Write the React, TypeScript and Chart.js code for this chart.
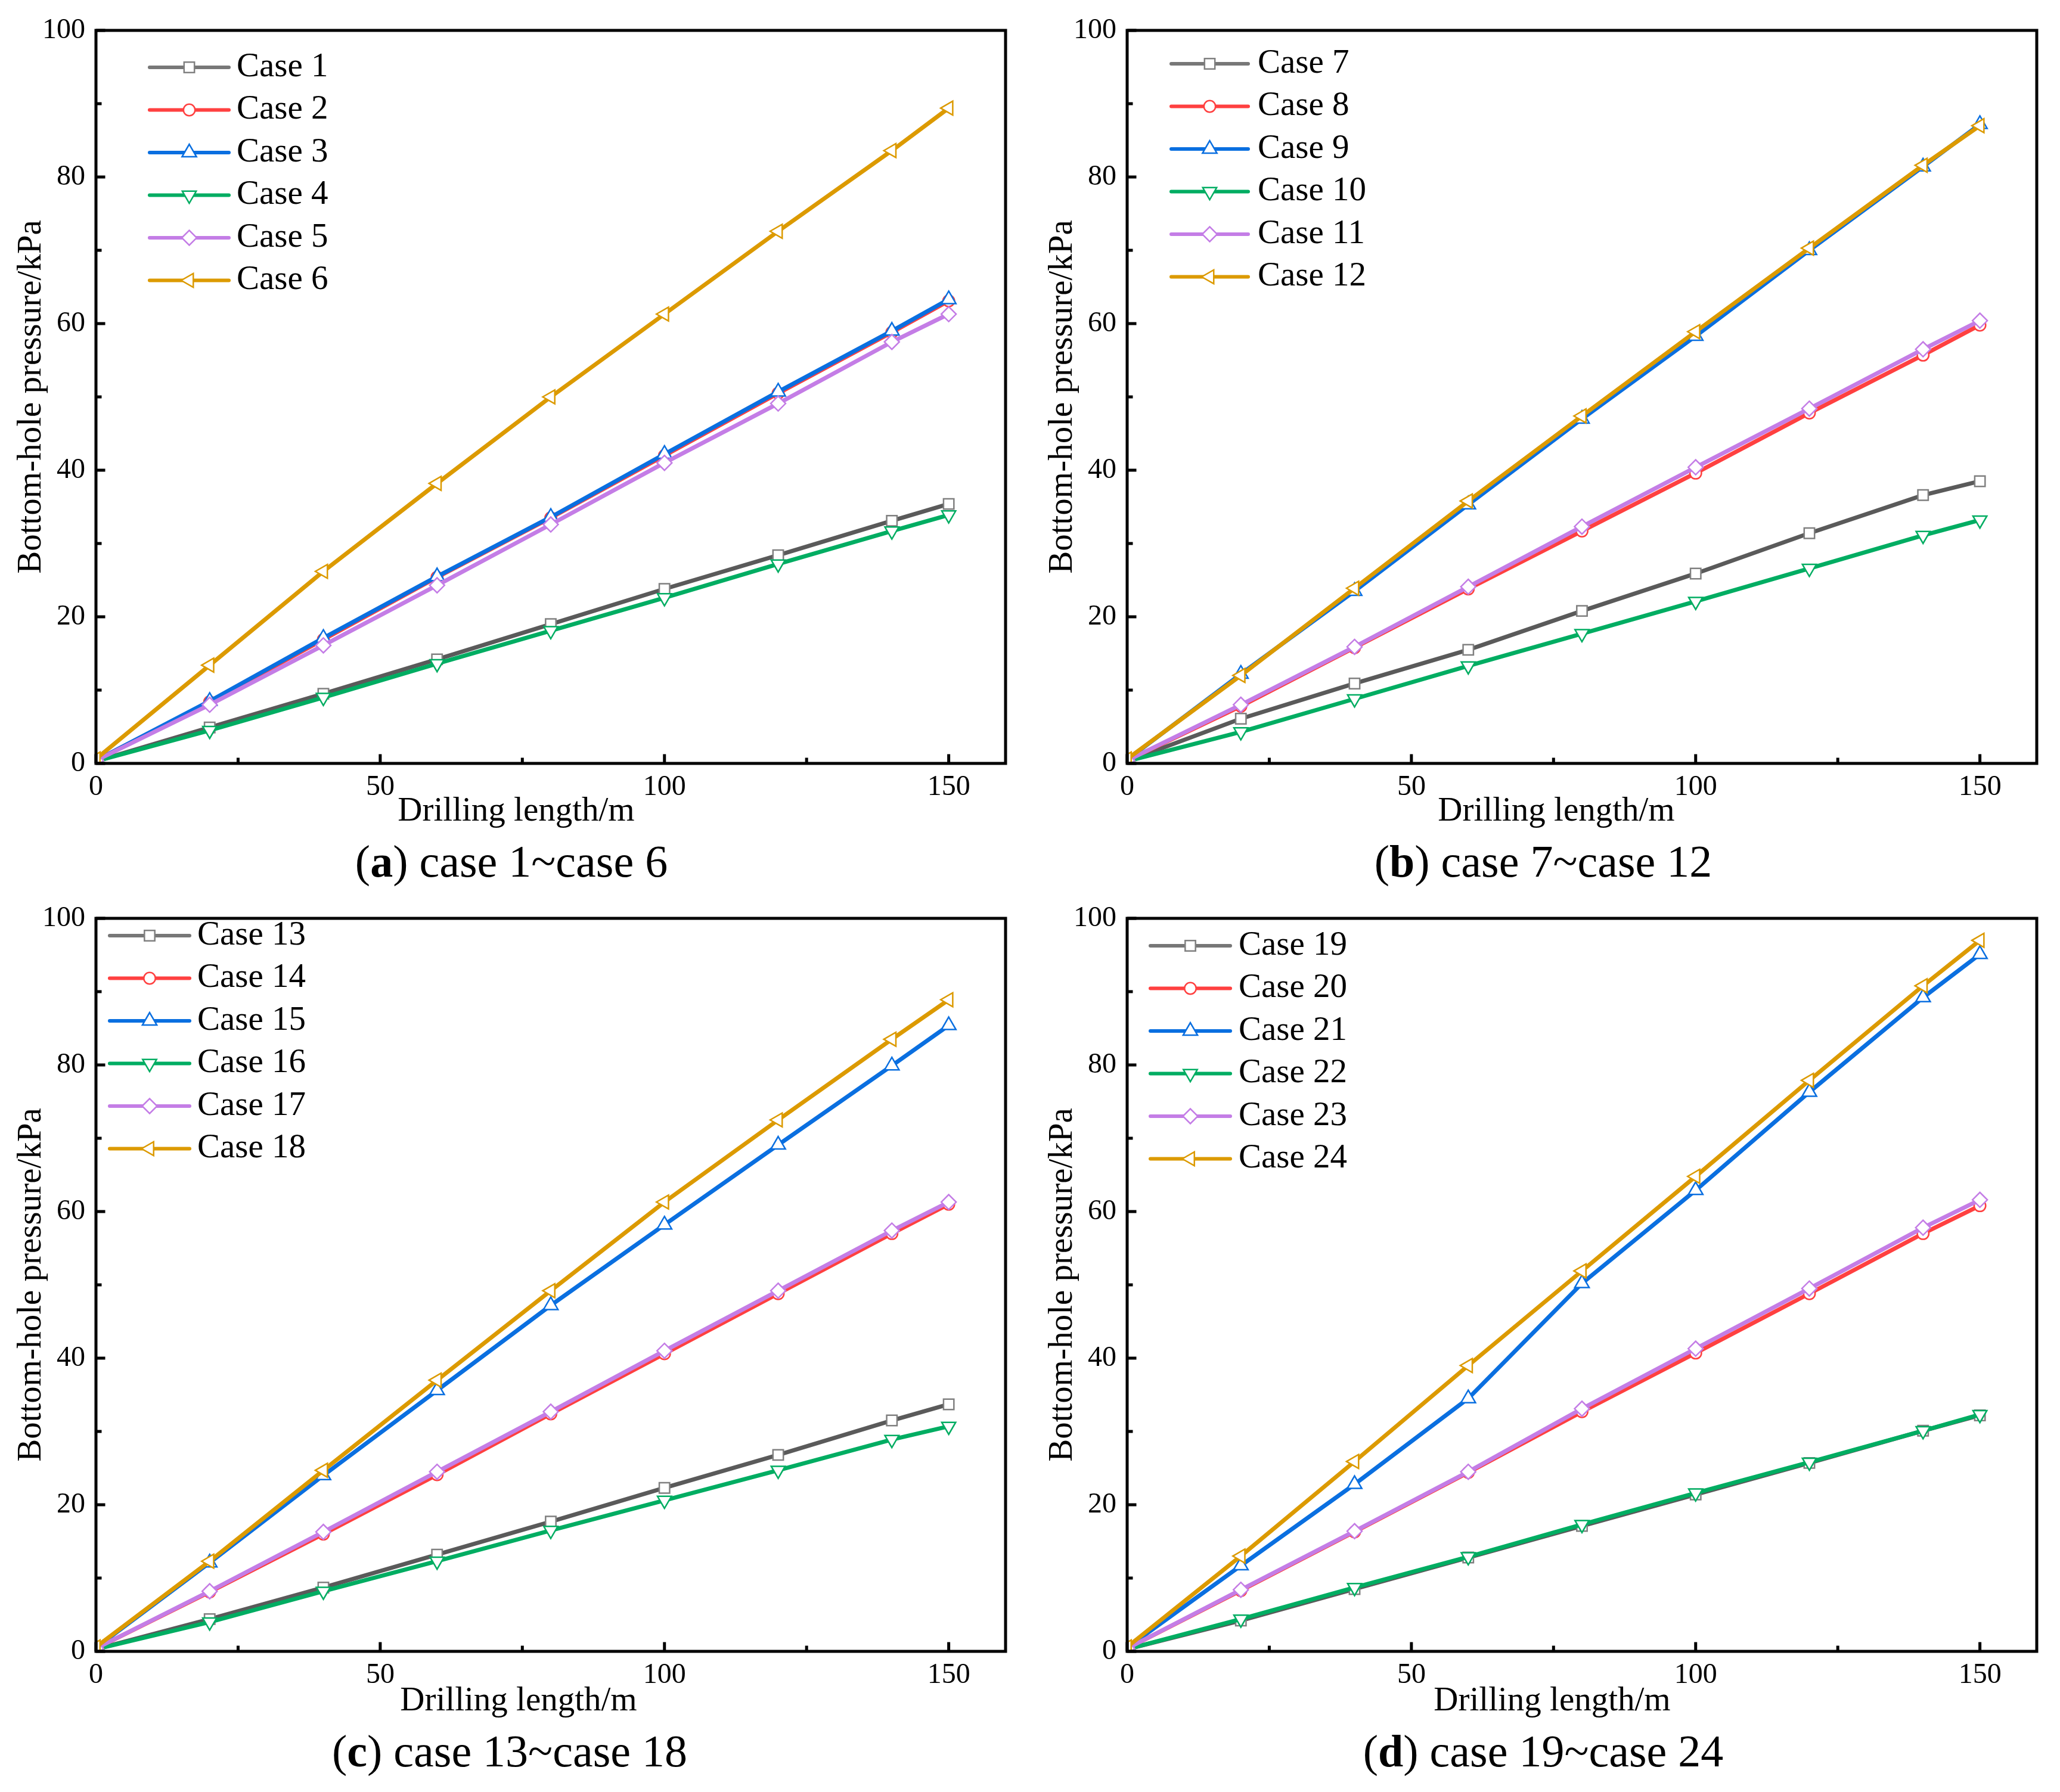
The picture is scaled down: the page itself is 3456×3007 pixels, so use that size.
import React, { useEffect, useRef } from 'react';
import { Chart, registerables } from 'chart.js';
import { drawPoint } from 'chart.js/helpers';

Chart.register(...registerables);

// ---------------- data ----------------
const xValues = [0, 20, 40, 60, 80, 100, 120, 140, 150];
const xTickValues = [0, 50, 100, 150];
const xMinorValues = [25, 75, 125];
const yTickValues = [0, 20, 40, 60, 80, 100];
const yMinorValues = [10, 30, 50, 70, 90];

const case1 = [0.3, 4.9, 9.5, 14.2, 19.0, 23.8, 28.4, 33.1, 35.4];
const case2 = [0.4, 8.4, 16.9, 25.4, 33.5, 42.0, 50.5, 58.8, 63.1];
const case3 = [0.4, 8.5, 17.1, 25.5, 33.6, 42.2, 50.7, 59.0, 63.3];
const case4 = [0.3, 4.5, 9.0, 13.6, 18.1, 22.6, 27.2, 31.7, 33.9];
const case5 = [0.4, 8.0, 16.1, 24.3, 32.6, 41.0, 49.1, 57.5, 61.3];
const case6 = [0.6, 13.4, 26.2, 38.2, 50.0, 61.3, 72.6, 83.6, 89.4];

const case7 = [0.3, 6.1, 10.9, 15.5, 20.8, 25.9, 31.4, 36.6, 38.5];
const case8 = [0.4, 7.8, 15.8, 23.8, 31.7, 39.6, 47.8, 55.7, 59.8];
const case9 = [0.5, 12.2, 23.5, 35.3, 47.0, 58.3, 70.0, 81.4, 87.2];
const case10 = [0.3, 4.3, 8.8, 13.3, 17.7, 22.1, 26.6, 31.1, 33.2];
const case11 = [0.4, 8.0, 15.9, 24.1, 32.3, 40.4, 48.4, 56.5, 60.4];
const case12 = [0.6, 12.0, 23.9, 35.8, 47.4, 58.9, 70.3, 81.6, 87.0];

const case13 = [0.3, 4.4, 8.7, 13.2, 17.7, 22.3, 26.8, 31.5, 33.7];
const case14 = [0.4, 8.1, 16.0, 24.1, 32.4, 40.6, 48.8, 57.0, 61.0];
const case15 = [0.5, 12.1, 24.0, 35.6, 47.2, 58.2, 69.1, 79.9, 85.4];
const case16 = [0.3, 4.0, 8.2, 12.3, 16.5, 20.6, 24.7, 28.9, 30.7];
const case17 = [0.4, 8.2, 16.3, 24.5, 32.7, 41.0, 49.2, 57.4, 61.3];
const case18 = [0.6, 12.3, 24.7, 37.0, 49.2, 61.3, 72.5, 83.5, 88.9];

const case19 = [0.3, 4.2, 8.5, 12.8, 17.1, 21.4, 25.7, 30.1, 32.2];
const case20 = [0.4, 8.3, 16.3, 24.4, 32.7, 40.7, 48.8, 57.0, 60.8];
const case21 = [0.5, 11.7, 22.8, 34.5, 50.2, 62.9, 76.3, 89.2, 95.1];
const case22 = [0.3, 4.4, 8.7, 12.9, 17.3, 21.6, 25.8, 30.1, 32.3];
const case23 = [0.4, 8.4, 16.4, 24.5, 33.1, 41.3, 49.5, 57.8, 61.6];
const case24 = [0.6, 13.0, 25.9, 39.0, 51.9, 64.8, 77.9, 90.8, 97.0];

const labelsA = ['Case 1', 'Case 2', 'Case 3', 'Case 4', 'Case 5', 'Case 6'];
const labelsB = ['Case 7', 'Case 8', 'Case 9', 'Case 10', 'Case 11', 'Case 12'];
const labelsC = ['Case 13', 'Case 14', 'Case 15', 'Case 16', 'Case 17', 'Case 18'];
const labelsD = ['Case 19', 'Case 20', 'Case 21', 'Case 22', 'Case 23', 'Case 24'];

const seriesA = [case1, case2, case3, case4, case5, case6];
const seriesB = [case7, case8, case9, case10, case11, case12];
const seriesC = [case13, case14, case15, case16, case17, case18];
const seriesD = [case19, case20, case21, case22, case23, case24];

const xTitle = 'Drilling length/m';
const yTitle = 'Bottom-hole pressure/kPa';

// ---------------- styles ----------------
const FONT = '"Liberation Serif", "Times New Roman", serif';
const lineColors = ['#5a5a5a', '#ff4040', '#0a6fe0', '#00ad62', '#c47de6', '#dc9a00'];
const legendLineColors = ['#777777', '#ff4040', '#0a6fe0', '#00ad62', '#c47de6', '#dc9a00'];
const markerColors = ['#808080', '#ff4040', '#0a6fe0', '#00ad62', '#c47de6', '#dc9a00'];
const markerStyles = ['rect', 'circle', 'triangle', 'triangle', 'rectRot', 'triangle'];
const markerRotations = [0, 0, 0, 180, 0, -90];
const markerRadii = [12.3, 9.7, 14, 13.5, 12.5, 13.5];

const CW = 1728;
const CH = 1400;
const PLOT_LEFT = 161;
const PLOT_TOP = 51;
const PLOT_BOTTOM = 1281;
const PAD_RIGHT = 41;

type PanelCfg = {
  left: number;
  top: number;
  labels: string[];
  series: number[][];
  legendTop: number;
  legendX1: number;
  legendX2: number;
  legendText: number;
  xTitleX: number;
  xTitleY: number;
};

function makeDecor(cfg: PanelCfg) {
  return {
    id: 'panelDecor',
    afterDatasetsDraw(chart: any) {
      const { ctx, chartArea: a, scales } = chart;
      const xs = scales.x;
      const ys = scales.y;
      ctx.save();
      // inward tick marks
      ctx.strokeStyle = '#000';
      ctx.lineWidth = 5;
      ctx.lineCap = 'butt';
      ctx.beginPath();
      xTickValues.forEach((v) => {
        const p = xs.getPixelForValue(v);
        ctx.moveTo(p, a.bottom);
        ctx.lineTo(p, a.bottom - 15.5);
      });
      xMinorValues.forEach((v) => {
        const p = xs.getPixelForValue(v);
        ctx.moveTo(p, a.bottom);
        ctx.lineTo(p, a.bottom - 9.5);
      });
      yTickValues.forEach((v) => {
        const p = ys.getPixelForValue(v);
        ctx.moveTo(a.left, p);
        ctx.lineTo(a.left + 15.5, p);
      });
      yMinorValues.forEach((v) => {
        const p = ys.getPixelForValue(v);
        ctx.moveTo(a.left, p);
        ctx.lineTo(a.left + 9.5, p);
      });
      ctx.stroke();
      // frame
      ctx.lineJoin = 'miter';
      ctx.strokeRect(a.left, a.top, a.right - a.left, a.bottom - a.top);

      // legend
      chart.data.datasets.forEach((ds: any, i: number) => {
        const yy = cfg.legendTop + i * 71.5;
        ctx.strokeStyle = legendLineColors[i];
        ctx.lineWidth = 6;
        ctx.lineCap = 'round';
        ctx.beginPath();
        ctx.moveTo(cfg.legendX1, yy);
        ctx.lineTo(cfg.legendX2, yy);
        ctx.stroke();
        ctx.fillStyle = '#ffffff';
        ctx.strokeStyle = ds.pointBorderColor;
        ctx.lineWidth = ds.pointBorderWidth;
        ctx.lineCap = 'butt';
        drawPoint(
          ctx,
          {
            pointStyle: ds.pointStyle,
            rotation: ds.pointRotation,
            radius: ds.pointRadius,
            borderWidth: ds.pointBorderWidth,
          } as any,
          (cfg.legendX1 + cfg.legendX2) / 2,
          yy
        );
        ctx.fillStyle = '#000';
        ctx.font = `57px ${FONT}`;
        ctx.textAlign = 'left';
        ctx.textBaseline = 'middle';
        ctx.fillText(ds.label, cfg.legendText, yy);
      });

      // x-axis title
      ctx.fillStyle = '#000';
      ctx.font = `57px ${FONT}`;
      ctx.textAlign = 'center';
      ctx.textBaseline = 'middle';
      ctx.fillText(xTitle, cfg.xTitleX, cfg.xTitleY);
      ctx.restore();
    },
  };
}

function Panel({ cfg }: { cfg: PanelCfg }) {
  const ref = useRef<HTMLCanvasElement | null>(null);
  useEffect(() => {
    if (!ref.current) return;
    const datasets = cfg.series.map((vals, i) => ({
      label: cfg.labels[i],
      data: xValues.map((x, k) => ({ x, y: vals[k] })),
      borderColor: lineColors[i],
      borderWidth: 7,
      backgroundColor: '#ffffff',
      pointStyle: markerStyles[i],
      pointRotation: markerRotations[i],
      pointRadius: markerRadii[i],
      pointBorderWidth: 2.5,
      pointBorderColor: markerColors[i],
      pointBackgroundColor: '#ffffff',
      pointHoverRadius: markerRadii[i],
      tension: 0,
      fill: false,
      order: cfg.series.length - 1 - i,
    }));
    const tickFont = { family: FONT, size: 48 };
    const chart = new Chart(ref.current, {
      type: 'line',
      data: { datasets } as any,
      options: {
        animation: false,
        responsive: false,
        events: [],
        layout: { padding: { top: PLOT_TOP, right: PAD_RIGHT, left: 0, bottom: 0 } },
        plugins: { legend: { display: false }, tooltip: { enabled: false }, title: { display: false } },
        scales: {
          x: {
            type: 'linear',
            min: 0,
            max: 160,
            afterBuildTicks: (s: any) => {
              s.ticks = xTickValues.map((v) => ({ value: v }));
            },
            afterFit: (s: any) => {
              s.height = CH - PLOT_BOTTOM;
            },
            grid: { display: false, drawTicks: false },
            border: { display: false },
            ticks: { font: tickFont, color: '#000', padding: 12, maxRotation: 0, autoSkip: false },
          },
          y: {
            type: 'linear',
            min: 0,
            max: 100,
            afterBuildTicks: (s: any) => {
              s.ticks = yTickValues.map((v) => ({ value: v }));
            },
            afterFit: (s: any) => {
              s.width = PLOT_LEFT;
            },
            grid: { display: false, drawTicks: false },
            border: { display: false },
            ticks: { font: tickFont, color: '#000', padding: 18, autoSkip: false },
            title: {
              display: true,
              text: yTitle,
              color: '#000',
              font: { family: FONT, size: 57 },
              padding: { top: 19, bottom: 0 },
            },
          },
        },
      } as any,
      plugins: [makeDecor(cfg)],
    });
    return () => chart.destroy();
  }, [cfg]);
  return (
    <canvas
      ref={ref}
      width={CW}
      height={CH}
      style={{ position: 'absolute', left: cfg.left, top: cfg.top, width: CW, height: CH }}
    />
  );
}

const panels: PanelCfg[] = [
  { left: 0, top: 0, labels: labelsA, series: seriesA, legendTop: 113, legendX1: 251, legendX2: 384, legendText: 397, xTitleX: 866, xTitleY: 1362 },
  { left: 1730, top: 0, labels: labelsB, series: seriesB, legendTop: 107, legendX1: 235, legendX2: 364, legendText: 380, xTitleX: 881, xTitleY: 1362 },
  { left: 0, top: 1490, labels: labelsC, series: seriesC, legendTop: 80, legendX1: 184, legendX2: 318, legendText: 331, xTitleX: 870, xTitleY: 1365 },
  { left: 1730, top: 1490, labels: labelsD, series: seriesD, legendTop: 97, legendX1: 200, legendX2: 334, legendText: 348, xTitleX: 874, xTitleY: 1365 },
];

const captions = [
  { letter: 'a', rest: ' case 1~case 6', cx: 858, baseline: 1471 },
  { letter: 'b', rest: ' case 7~case 12', cx: 2589, baseline: 1471 },
  { letter: 'c', rest: ' case 13~case 18', cx: 855, baseline: 2964 },
  { letter: 'd', rest: ' case 19~case 24', cx: 2589, baseline: 2964 },
];

export default function App() {
  return (
    <div
      style={{
        position: 'absolute',
        left: 0,
        top: 0,
        width: 3456,
        height: 3007,
        background: '#ffffff',
        overflow: 'hidden',
      }}
    >
      {panels.map((p, i) => (
        <Panel key={i} cfg={p} />
      ))}
      {captions.map((c, i) => (
        <div
          key={'cap' + i}
          style={{
            position: 'absolute',
            left: c.cx - 864,
            top: c.baseline - 64,
            width: 1728,
            textAlign: 'center',
            fontFamily: FONT,
            fontSize: 76,
            lineHeight: '76px',
            color: '#000',
            whiteSpace: 'pre',
          }}
        >
          (<b>{c.letter}</b>){c.rest}
        </div>
      ))}
    </div>
  );
}
